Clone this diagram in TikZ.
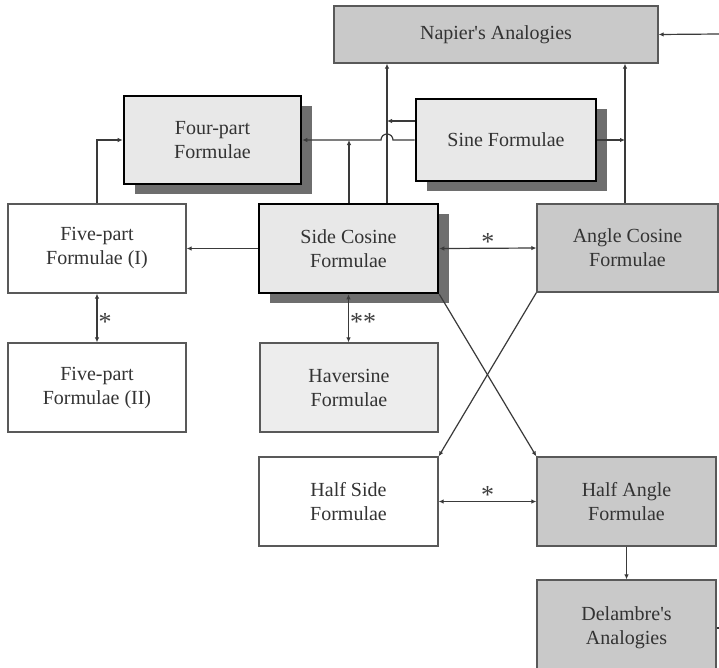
\documentclass[tikz,border=0pt]{standalone}
\usepackage{fontspec}
\setmainfont{Liberation Serif}
\usetikzlibrary{arrows.meta,shadows,calc}
\definecolor{dkgray}{HTML}{C9C9C9}
\definecolor{ltgray}{HTML}{E8E8E8}
\definecolor{hvgray}{HTML}{EDEDED}
\definecolor{shgray}{HTML}{6E6E6E}
\definecolor{lncol}{HTML}{3A3A3A}
\begin{document}
\begin{tikzpicture}[x=1pt,y=-1pt,
  every node/.style={font=\fontsize{20}{24}\selectfont, text=black!80, align=center},
  thinbox/.style={draw=black!65, line width=1.3pt, inner sep=0pt},
  thickbox/.style={draw=black, line width=2.6pt, fill=ltgray, inner sep=0pt,
     drop shadow={shadow xshift=11pt, shadow yshift=-10pt, fill=shgray, opacity=1}},
  arr/.style={draw=lncol, line width=1.2pt, -{Latex[length=5pt,width=4.5pt]}},
  darr/.style={draw=lncol, line width=1.2pt, {Latex[length=5pt,width=4.5pt]}-{Latex[length=5pt,width=4.5pt]}},
  ln/.style={draw=lncol, line width=1.2pt},
  star/.style={font=\fontsize{26}{26}\selectfont, text=black!75, inner sep=1pt}
]
\useasboundingbox (0,0) rectangle (719,667);
\fill[white] (0,0) rectangle (719,667);

% nodes
\node[thinbox, fill=dkgray, minimum width=324pt, minimum height=57pt] (nap) at (496,34.5) {Napier\textquotesingle s Analogies};
\node[thickbox, minimum width=177pt, minimum height=88pt] (fp) at (212.5,140) {Four-part\\Formulae};
\node[thickbox, minimum width=180pt, minimum height=82pt] (sine) at (506,140) {Sine Formulae};
\node[thickbox, minimum width=179pt, minimum height=89pt] (sc) at (348.5,248.5) {Side Cosine\\Formulae};
\node[thinbox, fill=dkgray, minimum width=181pt, minimum height=88pt] (ac) at (627.5,248) {Angle Cosine\\Formulae};
\node[thinbox, fill=white, minimum width=178pt, minimum height=89pt] (f1) at (97,248.5) {Five-part\\Formulae (I)};
\node[thinbox, fill=white, minimum width=178pt, minimum height=89pt] (f2) at (97,387.5) {Five-part\\Formulae (II)};
\node[thinbox, fill=hvgray, minimum width=178pt, minimum height=89pt] (hav) at (349,387.5) {Haversine\\Formulae};
\node[thinbox, fill=white, minimum width=179pt, minimum height=89pt] (hs) at (348.5,501.5) {Half Side\\Formulae};
\node[thinbox, fill=dkgray, minimum width=179pt, minimum height=89pt] (ha) at (626.5,501.5) {Half Angle\\Formulae};
\node[thinbox, fill=dkgray, minimum width=179pt, minimum height=96pt] (del) at (626.5,628) {Delambre\textquotesingle s\\Analogies};

% helper coordinates
\coordinate (v1) at (387,0);
\coordinate (v2) at (349,0);
\coordinate (v3) at (625,0);
\coordinate (r1) at (719,34);
\coordinate (sw1) at ([yshift=19pt]sine.west);
\coordinate (r2) at ([xshift=6pt]del.east);

% connectors
\draw[arr] (v1 |- sc.north) -- (v1 |- nap.south);
\draw[arr] (sw1) -- (v1 |- sw1);
\draw[arr] (sine.west) -- ([xshift=6pt]v1 |- sine.west) arc[start angle=0, end angle=180, radius=6pt] -- (fp.east);
\draw[arr] (v2 |- sc.north) -- (v2 |- fp.east);
\draw[arr] (sine.east) -- (v3 |- sine.east);
\draw[arr] (v3 |- ac.north) -- (v3 |- nap.south);
\draw[arr] (r1) -- (nap.east);
\draw[arr] (f1.north) |- (fp.west);
\draw[arr] (sc.west) -- (f1.east);
\draw[darr] (sc.east) -- node[star, above, yshift=-4pt] {*} (ac.west);
\draw[darr] (sc.south) -- node[star, right, yshift=-4pt] {**} (sc.south |- hav.north);
\draw[darr] (f1.south) -- node[star, right, yshift=-4pt] {*} (f2.north);
\draw[arr] (sc.south east) -- (ha.north west);
\draw[arr] (ac.south west) -- (hs.north east);
\draw[darr] (hs.east) -- node[star, above, yshift=-4pt] {*} (ha.west);
\draw[arr] (ha.south) -- (del.north);
\draw[ln] (del.east) -- (r2);
\end{tikzpicture}
\end{document}
